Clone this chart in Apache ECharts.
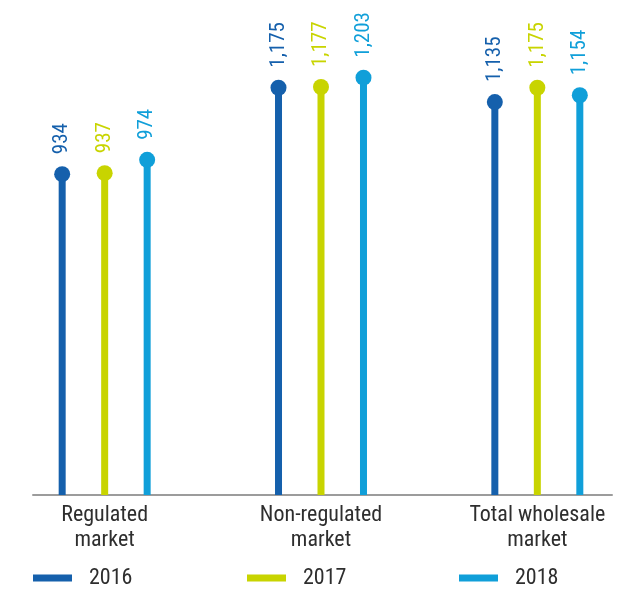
<!DOCTYPE html>
<html>
<head>
<meta charset="utf-8">
<script src="https://cdn.jsdelivr.net/npm/echarts@6/dist/echarts.min.js"></script>
<style>
  html, body { margin: 0; padding: 0; background: #ffffff; }
  #chart { width: 627px; height: 590px; }
</style>
</head>
<body>
<div id="chart"></div>
<script>
// Wholesale market figures by segment, 2016–2018
const categories = ['Regulated\nmarket', 'Non-regulated\nmarket', 'Total wholesale\nmarket'];
const years = ['2016', '2017', '2018'];
const values2016 = [934, 1175, 1135];
const values2017 = [937, 1177, 1175];
const values2018 = [974, 1203, 1154];
const seriesValues = [values2016, values2017, values2018];
const colors = ['#1560ac', '#c8d400', '#109fd9'];

const FONT = "'Liberation Sans Narrow', 'Roboto Condensed', Roboto, sans-serif";
const TEXT = '#2e2e2e';

const fmt = v => Number(v).toLocaleString('en-US');

const series = [];
years.forEach((year, i) => {
  // stem
  series.push({
    name: year,
    type: 'bar',
    xAxisIndex: 0,
    yAxisIndex: 0,
    data: seriesValues[i],
    barWidth: 7,
    barGap: '507%',
    itemStyle: { color: colors[i] },
    label: {
      show: true,
      position: 'top',
      distance: 20,
      rotate: 90,
      align: 'left',
      verticalAlign: 'middle',
      fontFamily: FONT,
      fontSize: 21,
      color: colors[i],
      formatter: p => fmt(p.value)
    },
    emphasis: { disabled: true },
    z: 2
  });
});
years.forEach((year, i) => {
  // round head at the value
  series.push({
    name: year,
    type: 'pictorialBar',
    xAxisIndex: 0,
    yAxisIndex: 0,
    data: seriesValues[i],
    barWidth: 7,
    barGap: '507%',
    symbol: 'circle',
    symbolSize: [16, 16],
    symbolPosition: 'end',
    symbolOffset: [0, '-50%'],
    itemStyle: { color: colors[i] },
    emphasis: { disabled: true },
    z: 3
  });
});

const legendLefts = [33, 247, 459];
const legends = years.map((year, i) => ({
  data: [{ name: year, icon: 'rect' }],
  left: legendLefts[i],
  top: 567,
  padding: 0,
  itemWidth: 39,
  itemHeight: 7,
  selectedMode: false,
  textStyle: {
    fontFamily: FONT,
    fontSize: 22,
    color: TEXT,
    padding: [0, 0, 0, 12],
    lineHeight: 22
  }
}));

const option = {
  animation: false,
  backgroundColor: '#ffffff',
  color: colors,
  legend: legends,
  grid: [
    { left: -3.5, width: 649, top: 7, bottom: 95, outerBoundsMode: 'none', containLabel: false },
    { left: 33, width: 579, top: 7, bottom: 95, outerBoundsMode: 'none', containLabel: false }
  ],
  xAxis: [
    {
      type: 'category',
      gridIndex: 0,
      data: categories,
      axisLine: { show: false },
      axisTick: { show: false },
      axisLabel: {
        margin: 8,
        fontFamily: FONT,
        fontSize: 22,
        lineHeight: 25,
        color: TEXT,
        interval: 0
      }
    },
    {
      type: 'value',
      gridIndex: 1,
      axisLine: { show: true, lineStyle: { color: '#9c9c9c', width: 2 } },
      axisTick: { show: false },
      axisLabel: { show: false },
      splitLine: { show: false }
    }
  ],
  yAxis: [
    { type: 'value', gridIndex: 0, min: 40, max: 1400, show: false },
    { type: 'value', gridIndex: 1, show: false }
  ],
  series: series
};

const chart = echarts.init(document.getElementById('chart'), null, { renderer: 'canvas' });
chart.setOption(option);
</script>
</body>
</html>
